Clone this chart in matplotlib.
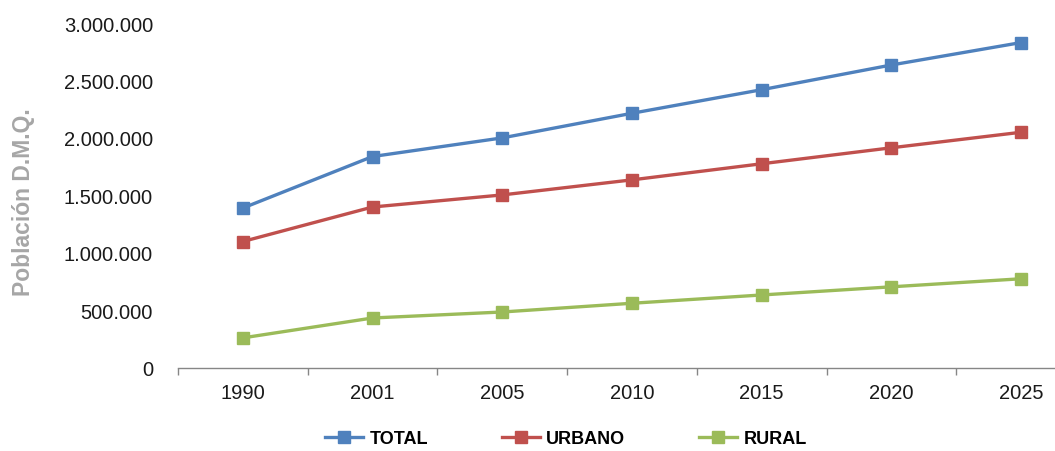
import numpy as np
import matplotlib.pyplot as plt
from matplotlib.ticker import FuncFormatter, FixedLocator

plt.rcParams['font.family'] = ['Liberation Sans', 'DejaVu Sans']

# Data
years = ['1990', '2001', '2005', '2010', '2015', '2020', '2025']
total = [1391000, 1839000, 2001000, 2215000, 2420000, 2635000, 2830000]
urbano = [1100000, 1400000, 1505000, 1636000, 1776000, 1915000, 2050000]
rural = [262000, 435000, 487000, 563000, 635000, 706000, 776000]

series = [
    ('TOTAL', total, '#4F81BD'),
    ('URBANO', urbano, '#C0504D'),
    ('RURAL', rural, '#9BBB59'),
]

fig = plt.figure(figsize=(10.55, 4.52), dpi=100)
ax = fig.add_axes([178 / 1055, 83 / 452, 908 / 1055, 345 / 452])

x = np.arange(len(years))
for name, vals, col in series:
    ax.plot(x, vals, color=col, linewidth=2.4, marker='s', markersize=8.5,
            label=name)

ax.set_xlim(-0.5, len(years) - 0.5)
ax.set_ylim(0, 3000000)
ax.set_yticks(np.arange(0, 3000001, 500000))
ax.yaxis.set_major_formatter(
    FuncFormatter(lambda v, p: f'{int(v):,}'.replace(',', '.')))

# category ticks between the labels
ax.xaxis.set_major_locator(FixedLocator(np.arange(-0.5, len(years), 1.0)))
ax.xaxis.set_minor_locator(FixedLocator(x))
ax.set_xticklabels([], minor=False)
ax.set_xticks(x, years, minor=True)
ax.tick_params(axis='x', which='major', length=5, color='#868686', width=1)
ax.tick_params(axis='x', which='minor', length=0, pad=11, labelsize=14.5,
               labelcolor='#1a1a1a')
ax.tick_params(axis='y', length=0, pad=18, labelsize=14.5, labelcolor='#1a1a1a')

for s in ['top', 'right', 'left']:
    ax.spines[s].set_visible(False)
ax.spines['bottom'].set_color('#868686')
ax.spines['bottom'].set_linewidth(1)

fig.text(0.022, 1 - 202 / 452, 'Población D.M.Q.', rotation=90, ha='center',
         va='center', fontsize=16.5, fontweight='bold', color='#a6a6a6')

leg = fig.legend(loc='center', bbox_to_anchor=(566 / 1055, 12 / 452), ncol=3,
                 frameon=False, handlelength=2.1, handletextpad=0.35,
                 columnspacing=4.1, numpoints=1,
                 prop={'size': 13, 'weight': 'bold'})

plt.savefig('out.png', dpi=100)
